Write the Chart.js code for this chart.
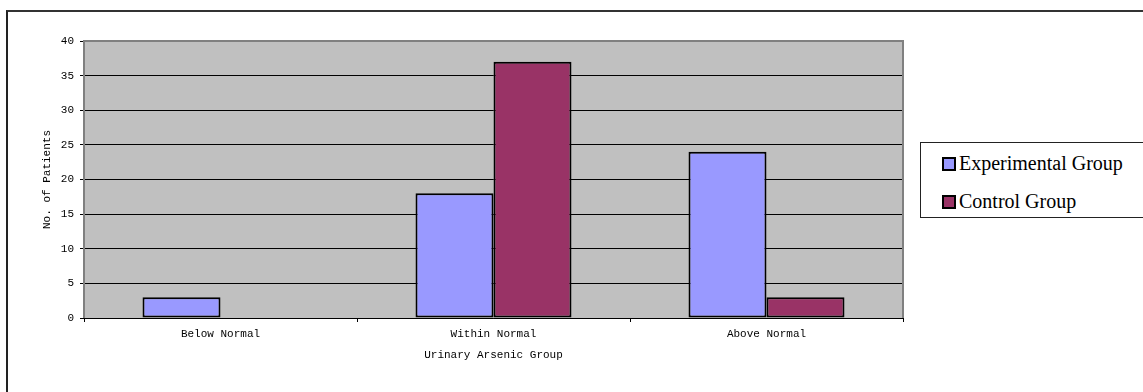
<!DOCTYPE html>
<html>
<head>
<meta charset="utf-8">
<script src="https://cdn.jsdelivr.net/npm/chart.js@4"></script>
<style>
  html, body { margin: 0; padding: 0; background: #fff; overflow: hidden; }
  #wrap { position: relative; width: 1143px; height: 392px; }
  #frame { position: absolute; left: 6px; top: 10px; width: 2000px; height: 1000px;
    border-left: 2px solid #222; border-top: 2px solid #333; box-sizing: border-box; }
  #legend { position: absolute; left: 920px; top: 142px; width: 400px; height: 76px;
    border: 1px solid #222; box-sizing: border-box; background: #fff;
    font-family: "Liberation Serif", "Times New Roman", serif; font-size: 20px; color: #000; }
  .item { position: absolute; left: 21px; height: 22px; line-height: 22px; white-space: nowrap; }
  .swatch { display: inline-block; width: 14px; height: 14px; border: 2px solid #000;
    box-sizing: border-box; vertical-align: -1px; margin-right: 3px; }
  canvas { position: absolute; left: 0; top: 0; }
</style>
</head>
<body>
<div id="wrap">
  <div id="frame"></div>
  <canvas id="myChart" width="1143" height="392"></canvas>
  <div id="legend"></div>
</div>
<script>
const categories = ["Below Normal", "Within Normal", "Above Normal"];
const seriesNames = ["Experimental Group", "Control Group"];
const experimental = [3, 18, 24];
const control = [0, 37, 3];
const yTicks = [0, 5, 10, 15, 20, 25, 30, 35, 40];
const colors = ["#9999FF", "#993366"];

const tickFont = { family: "Liberation Mono, monospace", size: 11 };

// plot area background + Excel style grey border
const plotArea = {
  id: "plotArea",
  beforeDraw(chart) {
    const { ctx, chartArea: a } = chart;
    ctx.save();
    ctx.fillStyle = "#C0C0C0";
    ctx.fillRect(a.left, a.top, a.right - a.left, a.bottom - a.top);
    ctx.restore();
  },
  beforeDatasetsDraw(chart) {
    const { ctx, chartArea: a } = chart;
    ctx.save();
    ctx.strokeStyle = "#808080";
    ctx.lineWidth = 2;
    ctx.beginPath();
    ctx.moveTo(a.left, a.bottom);
    ctx.lineTo(a.left, a.top);
    ctx.lineTo(a.right, a.top);
    ctx.lineTo(a.right, a.bottom);
    ctx.stroke();
    ctx.strokeStyle = "#000";
    ctx.lineWidth = 1;
    ctx.beginPath();
    ctx.moveTo(a.left - 1, a.bottom + 0.5);
    ctx.lineTo(a.right + 1, a.bottom + 0.5);
    ctx.stroke();
    ctx.restore();
  },
};

const ctx = document.getElementById("myChart").getContext("2d");
const chart = new Chart(ctx, {
  type: "bar",
  data: {
    labels: categories,
    datasets: [
      { label: seriesNames[0], data: experimental, backgroundColor: colors[0] },
      { label: seriesNames[1], data: control, backgroundColor: colors[1] },
    ].map((d) => ({
      ...d,
      borderColor: "#000",
      borderWidth: 2,
      borderSkipped: false,
      categoryPercentage: 2 / 3.5,
      barPercentage: 1,
    })),
  },
  options: {
    responsive: false,
    animation: false,
    layout: { padding: { left: 0, top: 41, right: 240, bottom: 0 } },
    plugins: { legend: { display: false }, tooltip: { enabled: false } },
    scales: {
      x: {
        afterFit: (s) => { s.height = 74; },
        grid: { drawOnChartArea: false, drawTicks: true, tickLength: 4, color: "#000", offset: true },
        border: { display: false },
        ticks: { color: "#000", font: tickFont, padding: 5, maxRotation: 0 },
        title: {
          display: true,
          text: "Urinary Arsenic Group",
          color: "#000",
          font: tickFont,
          padding: { top: 0, bottom: 30 },
        },
      },
      y: {
        min: 0,
        max: 40,
        afterFit: (s) => { s.width = 84; },
        afterBuildTicks: (s) => { s.ticks = yTicks.map((v) => ({ value: v })); },
        grid: { color: "#000", lineWidth: 1, drawTicks: true, tickLength: 4 },
        border: { display: false },
        ticks: { color: "#000", font: tickFont, padding: 6 },
        title: {
          display: true,
          text: "No. of Patients",
          color: "#000",
          font: tickFont,
          padding: { top: 40, bottom: 0 },
        },
      },
    },
  },
  plugins: [plotArea],
});

// legend box
const legend = document.getElementById("legend");
const legendTops = [9, 47];
seriesNames.forEach((name, i) => {
  const item = document.createElement("div");
  item.className = "item";
  item.style.top = legendTops[i] + "px";
  item.innerHTML = `<span class="swatch" style="background:${colors[i]}"></span>${name}`;
  legend.appendChild(item);
});
</script>
</body>
</html>
